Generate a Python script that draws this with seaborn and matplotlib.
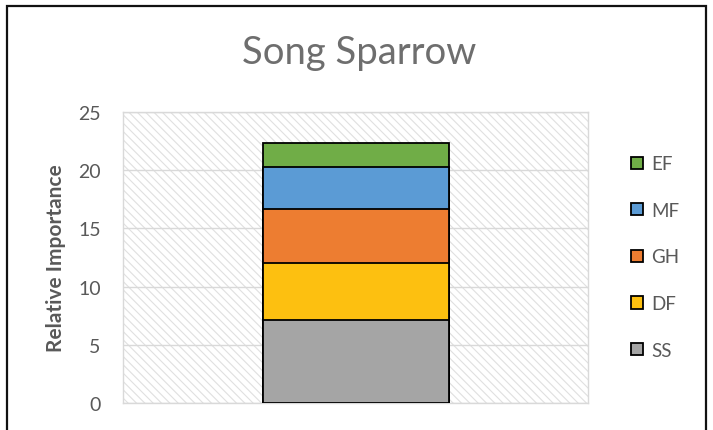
import matplotlib
matplotlib.use("Agg")
import matplotlib.pyplot as plt
from matplotlib.patches import Rectangle, Patch
import seaborn as sns
import pandas as pd
import numpy as np

# ---- data ----
species = ["Song Sparrow"]
categories = ["SS", "DF", "GH", "MF", "EF"]
values = [7.1, 4.9, 4.7, 3.55, 2.1]
colors = ["#A5A5A5", "#FDC010", "#ED7D31", "#5B9BD5", "#70AD47"]
yticks = [0, 5, 10, 15, 20, 25]

sns.set_theme(style="white")
plt.rcParams["font.family"] = ["Lato", "DejaVu Sans"]
plt.rcParams["hatch.linewidth"] = 0.8

fig = plt.figure(figsize=(7.13, 4.31), dpi=100)
W, H = 713, 431
ax = fig.add_axes([123 / W, 1 - 404 / H, (588 - 123) / W, (404 - 113) / H])

# hatched plot-area background
ax.add_patch(Rectangle((0, 0), 1, 1, transform=ax.transAxes, facecolor="white",
                       edgecolor="#e0e0e0", linewidth=0, hatch="\\\\\\\\", zorder=0))

cum = np.cumsum(values)
df = pd.DataFrame({"species": species * len(categories), "category": categories, "cum": cum})
for i in range(len(categories) - 1, -1, -1):
    sub = df.iloc[[i]]
    sns.barplot(data=sub, x="species", y="cum", color=colors[i], width=0.4,
                edgecolor="black", linewidth=1.3, saturation=1, ax=ax, zorder=3)

ax.set_ylim(0, 25)
ax.set_xlim(-0.5, 0.5)
ax.set_yticks(yticks)
ax.set_yticklabels([str(t) for t in yticks])
ax.yaxis.grid(True, color="#d9d9d9", linewidth=1.0, zorder=1)
ax.set_axisbelow(True)
ax.set_xticks([])
ax.set_xlabel("")
ax.set_ylabel("Relative Importance", fontsize=15, fontweight="bold", color="#595959", labelpad=9)
ax.tick_params(axis="y", length=0, pad=16, labelsize=14, labelcolor="#595959")
for s in ax.spines.values():
    s.set_color("#d9d9d9")
    s.set_linewidth(1.0)

fig.text(359 / W, 1 - 53 / H, "Song Sparrow", ha="center", va="center",
         fontsize=27.5, color="#6e6e6e")

handles = [Patch(facecolor=colors[i], edgecolor="black", linewidth=1.3, label=categories[i])
           for i in range(len(categories) - 1, -1, -1)]
leg = fig.legend(handles=handles, loc="center left", bbox_to_anchor=(622 / W, 1 - 258 / H),
                 frameon=False, fontsize=13.5, labelcolor="#595959", handlelength=0.62,
                 handleheight=0.62, handletextpad=0.45, labelspacing=1.58, borderpad=0)

# outer chart border
fig.patches.append(Rectangle((7 / W, -0.1), (706 - 7) / W, 1 - 7 / H + 0.1,
                             transform=fig.transFigure, fill=False,
                             edgecolor="#111111", linewidth=1.6))

fig.savefig("out.png", dpi=100)
